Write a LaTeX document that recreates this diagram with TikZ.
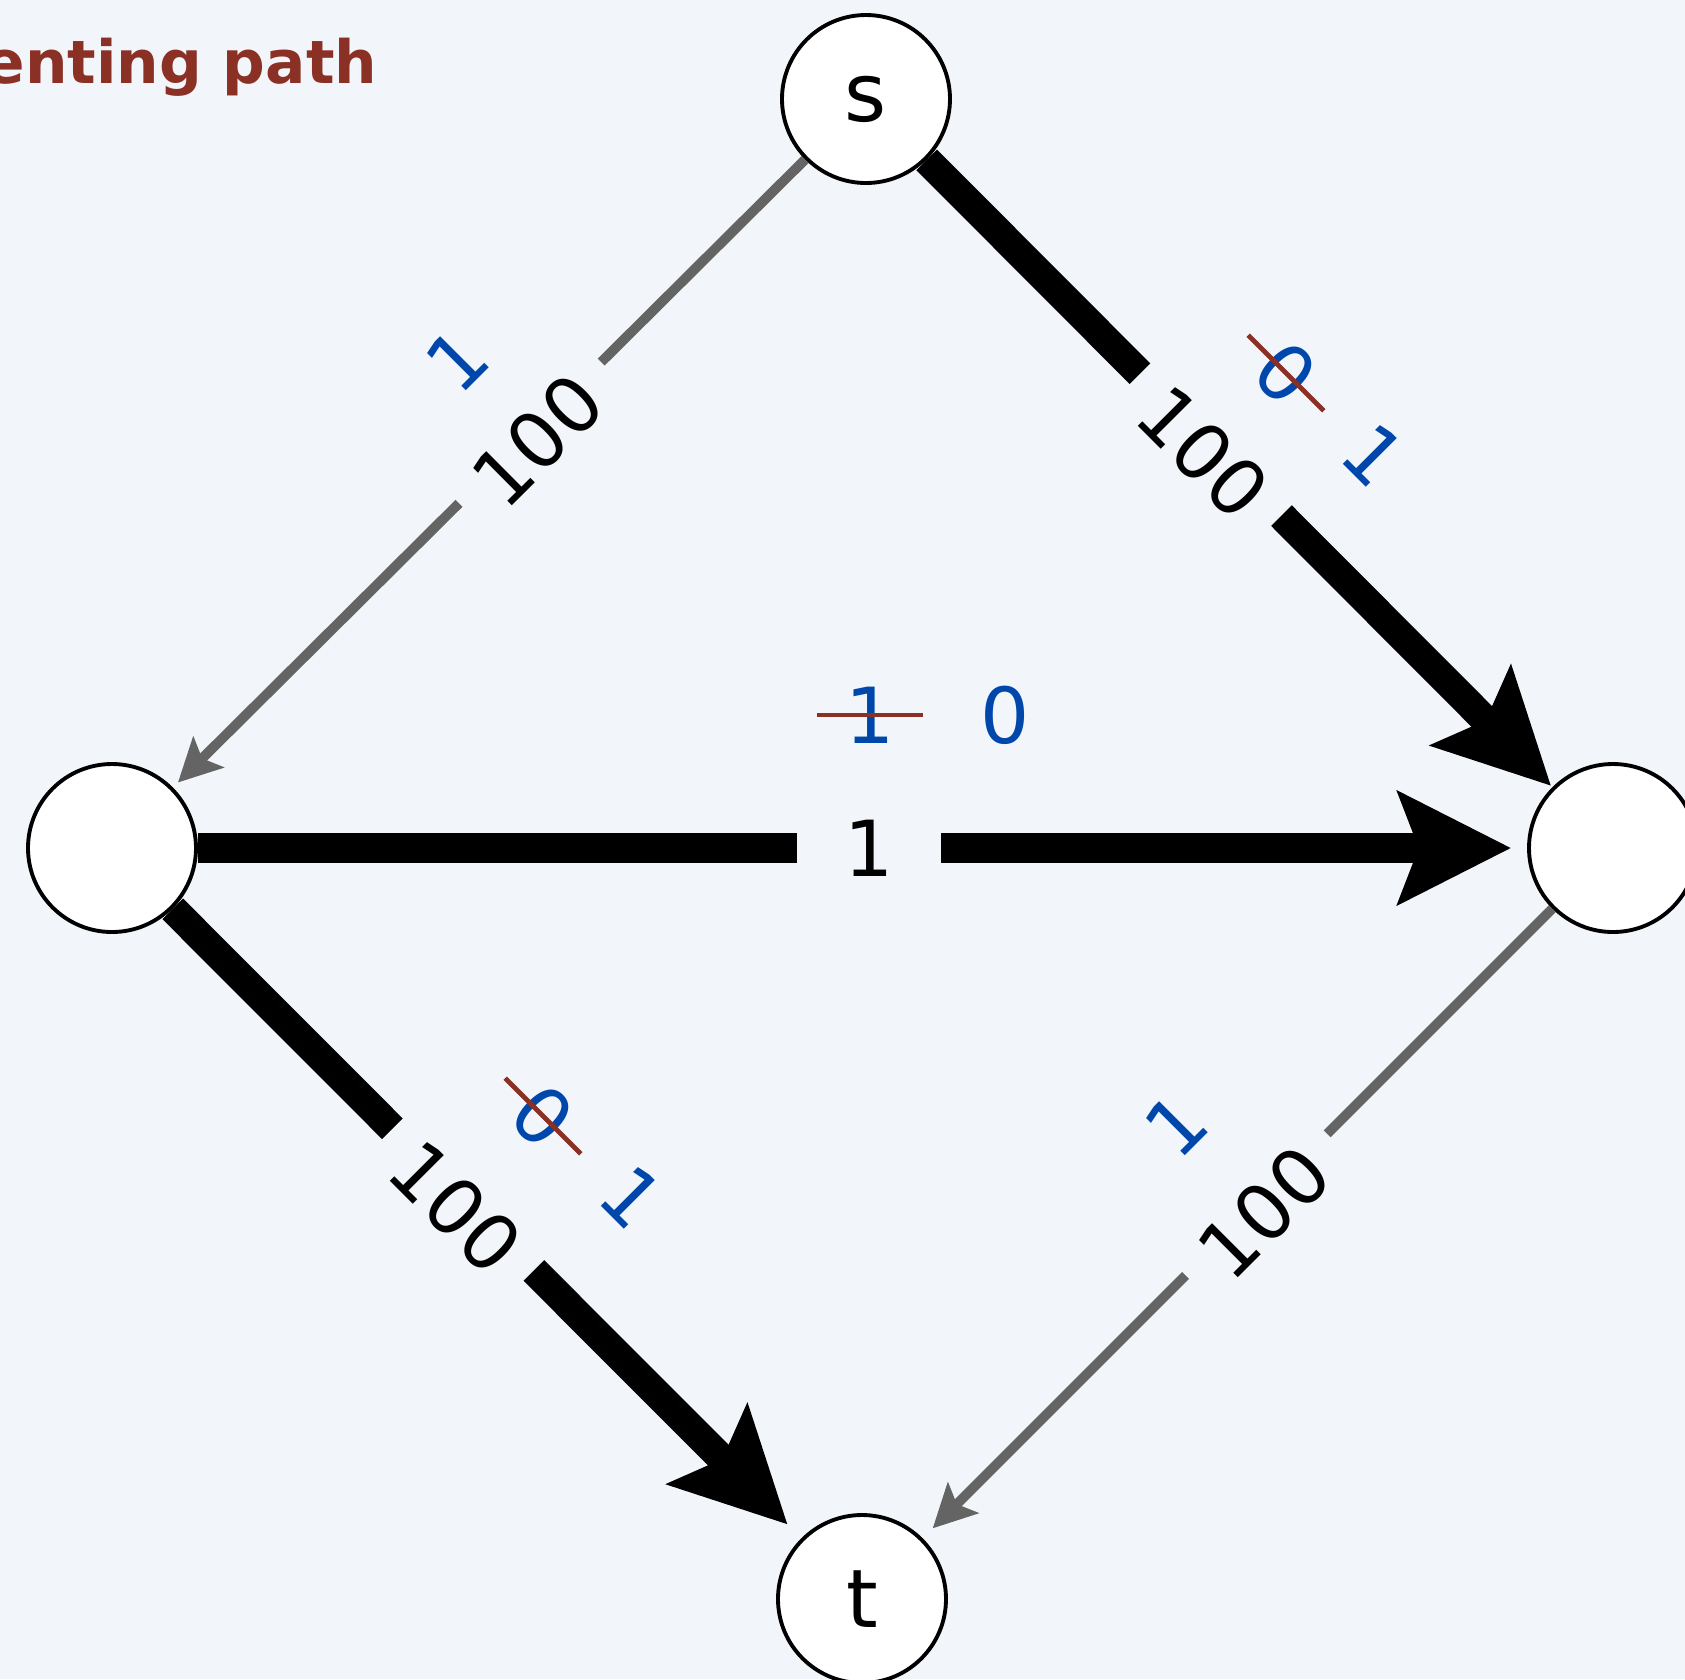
\documentclass[tikz,border=0pt]{standalone}
\usepackage{fontspec}
\setmainfont{DejaVu Sans}
\usetikzlibrary{arrows.meta}
\definecolor{bgcol}{RGB}{242,246,250}
\definecolor{flowblue}{RGB}{0,71,171}
\definecolor{strikered}{RGB}{139,48,36}
\definecolor{residgray}{RGB}{100,100,100}

\begin{document}
\begin{tikzpicture}[
  vertex/.style={circle, draw=black, line width=1.1pt, fill=white, minimum size=1.68cm, inner sep=0pt, font=\fontsize{23}{27}\selectfont},
  resid/.style={draw=residgray, line width=2.8pt, shorten >=2pt, -{Stealth[length=12.2pt, width=12.2pt, inset=2.5pt]}},
  augpath/.style={draw=black, line width=8.3pt, shorten >=2pt, -{Stealth[length=32pt, width=31.6pt, inset=5.7pt]}},
  capbox/.style={fill=bgcol, text=black, inner sep=0pt, minimum height=0.7cm, minimum width=2cm, font=\fontsize{22}{26}\selectfont},
  flowlab/.style={text=flowblue, inner sep=0pt, font=\fontsize{22}{26}\selectfont},
  oldflow/.style={flowlab, inner xsep=8pt},
  strikeline/.style={draw=strikered, line width=1.4pt}
]
  % background
  \fill[bgcol] (0,0) rectangle (16.85,-16.79);
  \useasboundingbox (0,0) rectangle (16.85,-16.79);
  \node[anchor=base west, inner sep=0pt, text=strikered, font=\bfseries\fontsize{17}{20}\selectfont] (title) at (-0.16,-0.83) {enting path};

  % vertices
  \node[vertex] (s) at (8.66,-0.99) {s};
  \node[vertex] (v) at (1.12,-8.48) {};
  \node[vertex] (w) at (16.13,-8.48) {};
  \node[vertex] (t) at (8.62,-15.99) {t};

  % residual edges and the augmenting path
  \draw[resid] (s) -- node[capbox, sloped, pos=.435, yshift=-3pt] (c1) {100} (v);
  \draw[augpath, shorten >=0.5pt] (s) -- node[capbox, sloped, pos=.454, yshift=-3pt] (c2) {100} (w);
  \draw[augpath, shorten >=4.5pt] (v) -- node[capbox, minimum width=1.44cm, pos=.505] (c3) {1} (w);
  \draw[augpath, shorten >=5.5pt] (v) -- node[capbox, sloped, pos=.462, yshift=-3pt] (c4) {100} (t);
  \draw[resid, shorten >=4pt] (w) -- node[capbox, sloped, pos=.47, yshift=-3pt] (c5) {100} (t);

  % flow values, old ones struck out
  \node[flowlab, rotate=45] (f1) at (4.57,-3.60) {1};
  \node[oldflow, rotate=-45] (o2) at (12.86,-3.73) {0};
  \node[flowlab, rotate=-45] (f2) at (13.74,-4.55) {1};
  \node[oldflow] (o3) at (8.70,-7.15) {1};
  \node[flowlab] (f3) at (10.05,-7.15) {0};
  \node[oldflow, rotate=-45] (o4) at (5.43,-11.16) {0};
  \node[flowlab, rotate=-45] (f4) at (6.32,-11.97) {1};
  \node[flowlab, rotate=45] (f5) at (11.76,-11.25) {1};
  \draw[strikeline] (o2.west) -- (o2.east);
  \draw[strikeline] (o3.west) -- (o3.east);
  \draw[strikeline] (o4.west) -- (o4.east);
\end{tikzpicture}
\end{document}
